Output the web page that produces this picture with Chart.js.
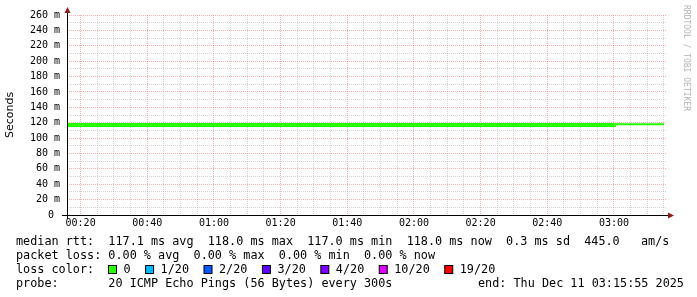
<!DOCTYPE html>
<html>
<head>
<meta charset="utf-8">
<script src="https://cdn.jsdelivr.net/npm/chart.js@4/dist/chart.umd.min.js"></script>
<style>
html, body { margin: 0; padding: 0; background: #fff; }
canvas { display: block; }
</style>
</head>
<body>
<canvas id="grafico" width="697" height="297"></canvas>
<script>
// start of each 300s sample, minutes after midnight
const orari = [15, 20, 25, 30, 35, 40, 45, 50, 55, 60, 65, 70, 75, 80, 85, 90, 95, 100,
  105, 110, 115, 120, 125, 130, 135, 140, 145, 150, 155, 160, 165, 170, 175, 180, 185, 190, 195];
// median rtt in ms
const mediana = [117.0, 117.0, 117.0, 117.0, 117.0, 117.0, 117.0, 117.0, 117.0, 117.0, 117.0, 117.0,
  117.0, 117.0, 117.0, 117.0, 117.0, 117.0, 117.0, 117.0, 117.0, 117.0, 117.0, 117.0, 117.0, 117.0,
  117.0, 117.0, 117.0, 117.0, 117.0, 117.0, 117.0, 118.0, 118.0, 118.0, 118.0];

const yTicks = [0, 10, 20, 30, 40, 50, 60, 70, 80, 90, 100, 110, 120, 130, 140, 150, 160, 170,
  180, 190, 200, 210, 220, 230, 240, 250, 260];
const xTicks = [20, 25, 30, 35, 40, 45, 50, 55, 60, 65, 70, 75, 80, 85, 90, 95, 100, 105, 110, 115,
  120, 125, 130, 135, 140, 145, 150, 155, 160, 165, 170, 175, 180, 185, 190, 195];
const inizio = 15 + 55 / 60;
const fine = 195 + 55 / 60;

const lossLabels = ['0', '1/20', '2/20', '3/20', '4/20', '10/20', '19/20'];
const lossColors = ['#26ff00', '#00b8ff', '#0059ff', '#5e00ff', '#7e00ff', '#dd00ff', '#ff0000'];

const righe = [
  'median rtt:  117.1 ms avg  118.0 ms max  117.0 ms min  118.0 ms now  0.3 ms sd  445.0   am/s',
  'packet loss: 0.00 % avg  0.00 % max  0.00 % min  0.00 % now',
  'loss color:',
  'probe:       20 ICMP Echo Pings (56 Bytes) every 300s'
];
const fineTesto = 'end: Thu Dec 11 03:15:55 2025';

const MAJ = 'rgba(233,81,81,0.45)';
const MIN = 'rgba(143,143,143,0.38)';
const mono = '"DejaVu Sans Mono", monospace';

function hhmm(v) {
  let h = Math.floor(v / 60), m = v % 60;
  return String(h).padStart(2, '0') + ':' + String(m).padStart(2, '0');
}

const decorazioni = {
  id: 'decorazioni',
  afterDraw(chart) {
    const c = chart.ctx, a = chart.chartArea;
    c.save();
    // axes
    c.strokeStyle = '#000';
    c.lineWidth = 1;
    c.beginPath();
    c.moveTo(a.left + 0.5, a.bottom + 4);
    c.lineTo(a.left + 0.5, a.top - 6);
    c.moveTo(a.left - 5, a.bottom + 0.5);
    c.lineTo(a.right + 5, a.bottom + 0.5);
    c.stroke();
    c.fillStyle = '#8e1a1a';
    c.beginPath();
    c.moveTo(a.left + 0.5, a.top - 8);
    c.lineTo(a.left - 2.5, a.top - 2);
    c.lineTo(a.left + 3.5, a.top - 2);
    c.fill();
    c.beginPath();
    c.moveTo(a.right + 7, a.bottom + 0.5);
    c.lineTo(a.right + 1, a.bottom - 2.5);
    c.lineTo(a.right + 1, a.bottom + 3.5);
    c.fill();

    // watermark
    c.fillStyle = '#b4b4b4';
    c.font = '8px ' + mono;
    c.textBaseline = 'middle';
    c.translate(686, 5);
    c.rotate(Math.PI / 2);
    c.fillText('RRDTOOL / TOBI OETIKER', 0, 0);
    c.restore();

    // legend
    c.save();
    c.font = '11.8px ' + mono;
    c.fillStyle = '#000';
    c.textBaseline = 'alphabetic';
    righe.forEach((r, i) => c.fillText(r, 16, 245 + i * 14));
    c.fillText(fineTesto, 478, 245 + 3 * 14);
    let x = 108.5;
    lossLabels.forEach((t, i) => {
      c.fillStyle = lossColors[i];
      c.fillRect(x, 265.5, 8, 8);
      c.strokeStyle = '#000';
      c.strokeRect(x, 265.5, 8, 8);
      c.fillStyle = '#000';
      c.fillText(t, x + 15, 273);
      x += 15 + c.measureText(t).width + 15;
    });
    c.restore();
  }
};

new Chart(document.getElementById('grafico'), {
  type: 'line',
  data: {
    datasets: [{
      data: orari.map((t, i) => ({ x: t, y: mediana[i] })),
      borderColor: '#26ff00',
      borderWidth: 4,
      stepped: 'before',
      pointRadius: 0,
      fill: false,
      clip: 0,
      segment: {
        borderWidth: ctx => ctx.p0.parsed.y < 117.5 ? 4 : 2
      }
    }]
  },
  options: {
    responsive: false,
    animation: false,
    devicePixelRatio: 1,
    layout: { padding: { left: 0, right: 30, top: 15, bottom: 0 } },
    plugins: { legend: { display: false }, tooltip: { enabled: false } },
    scales: {
      x: {
        type: 'linear',
        min: inizio,
        max: fine,
        afterBuildTicks: s => { s.ticks = xTicks.map(v => ({ value: v })); },
        afterFit: s => { s.height = 82; },
        ticks: {
          autoSkip: false,
          maxRotation: 0,
          padding: 2,
          color: '#000',
          font: { family: mono, size: 10 },
          callback: v => v % 20 === 0 ? hhmm(v) : ''
        },
        grid: {
          drawTicks: false,
          color: c => c.tick && c.tick.value % 20 === 0 ? MAJ : MIN
        },
        border: { display: false, dash: [1, 1] }
      },
      y: {
        min: 0,
        max: 260,
        afterBuildTicks: s => { s.ticks = yTicks.map(v => ({ value: v })); },
        afterFit: s => { s.width = 67; },
        ticks: {
          autoSkip: false,
          padding: 7,
          color: '#000',
          font: { family: mono, size: 10 },
          callback: v => v % 20 !== 0 ? '' : (v === 0 ? '0 ' : v + ' m')
        },
        grid: {
          drawTicks: false,
          color: c => c.tick && c.tick.value % 20 === 0 ? MAJ : MIN
        },
        border: { display: false, dash: [1, 1] },
        title: {
          display: true,
          text: 'Seconds',
          color: '#000',
          font: { family: '"DejaVu Sans", sans-serif', size: 11 },
          padding: { top: 4, bottom: 0 }
        }
      }
    }
  },
  plugins: [decorazioni]
});
</script>
</body>
</html>
